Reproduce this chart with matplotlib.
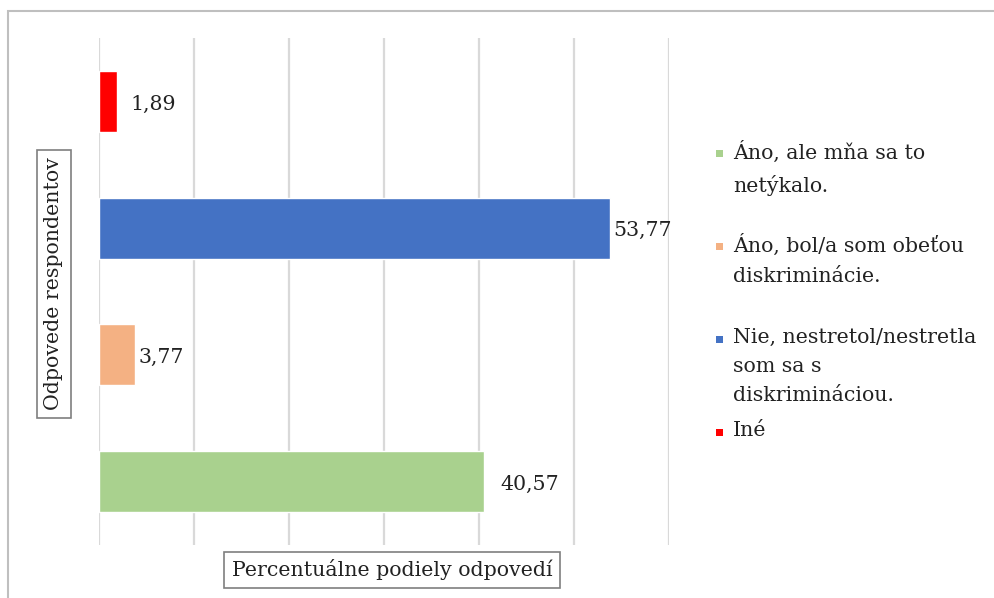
import matplotlib
matplotlib.use("Agg")
import matplotlib.pyplot as plt
from matplotlib.patches import Rectangle

# Survey answers (bottom to top) and their percentage shares
categories = [
    "Áno, ale mňa sa to netýkalo.",
    "Áno, bol/a som obeťou diskriminácie.",
    "Nie, nestretol/nestretla som sa s diskrimináciou.",
    "Iné",
]
legend_labels = [
    "Áno, ale mňa sa to\nnetýkalo.",
    "Áno, bol/a som obeťou\ndiskriminácie.",
    "Nie, nestretol/nestretla\nsom sa s\ndiskrimináciou.",
    "Iné",
]
values = [40.57, 3.77, 53.77, 1.89]
colors = ["#A9D18E", "#F4B183", "#4472C4", "#FF0000"]
x_ticks = [0, 10, 20, 30, 40, 50, 60]
x_title = "Percentuálne podiely odpovedí"
y_title = "Odpovede respondentov"

W, H = 994, 598
FS = 14.8
plt.rcParams["font.family"] = ["DejaVu Serif"]

fig = plt.figure(figsize=(W / 100, H / 100), dpi=100)
fig.patch.set_facecolor("white")

ax = fig.add_axes([99 / W, 53 / H, 570 / W, 507 / H])
ypos = list(range(len(values)))
ax.barh(ypos, values, height=0.48, color=colors, edgecolor="white",
        linewidth=1.0, zorder=3)
ax.set_xlim(x_ticks[0], x_ticks[-1])
ax.set_ylim(-0.5, len(values) - 0.5)
ax.set_xticks(x_ticks)
ax.set_yticks([])
ax.tick_params(axis="x", length=0, labelbottom=False)
ax.grid(axis="x", color="#D9D9D9", linewidth=1.6, zorder=0)
for s in ax.spines.values():
    s.set_visible(False)

# value labels, Slovak decimal comma
label_gap = [16, 4, 3, 13]  # offset right of bar end (px)
for y, v, g in zip(ypos, values, label_gap):
    ax.annotate(f"{v:.2f}".replace(".", ","), xy=(v, y), xytext=(g * 0.72, -2),
                textcoords="offset points", va="center", ha="left",
                fontsize=FS, color="#222222", zorder=4)

# axis titles in boxes
box = dict(boxstyle="square,pad=0.38", fc="white", ec="#7F7F7F", lw=1.2)
fig.text(392 / W, 1 - 570 / H, x_title, ha="center", va="center",
         fontsize=FS, color="#222222", bbox=box)
fig.text(54 / W, 1 - 284 / H, y_title, ha="center", va="center",
         rotation=90, fontsize=FS, color="#222222", bbox=box)

# legend: square marker aligned with the first line of each entry
first_line_y = 153
step = 93.3
for i, (lab, c) in enumerate(zip(legend_labels, colors)):
    yc = first_line_y + i * step
    fig.add_artist(Rectangle((716 / W, 1 - (yc + 3.5) / H), 7 / W, 7 / H,
                             transform=fig.transFigure, color=c, lw=0))
    fig.text(733 / W, 1 - (yc - 12) / H, lab, ha="left", va="top",
             fontsize=FS, color="#222222", linespacing=1.68)

# outer chart frame
fig.add_artist(Rectangle((8 / W, -0.2), 1.2, 1.2 - 11 / H,
                         transform=fig.transFigure, fill=False,
                         ec="#BFBFBF", lw=1.5))

fig.savefig("out.png", dpi=100, facecolor="white")
